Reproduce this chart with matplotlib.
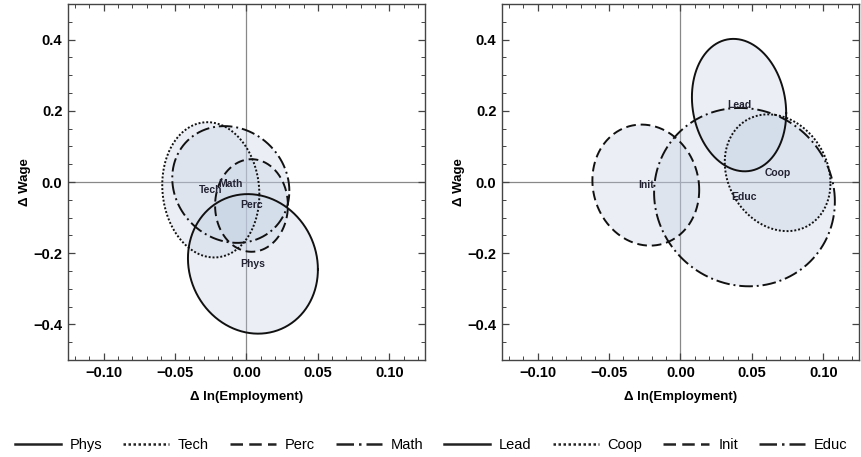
import numpy as np
import matplotlib.pyplot as plt
from matplotlib.lines import Line2D
from matplotlib.ticker import MultipleLocator, FuncFormatter

plt.rcParams['font.family'] = ['Liberation Sans', 'DejaVu Sans']

# left panel: centre, half-extent in x / y, correlation
left_names = ['Phys', 'Tech', 'Perc', 'Math']
left_cx = [0.0045, -0.025, 0.0035, -0.011]
left_cy = [-0.230, -0.022, -0.066, -0.007]
left_sx = [0.0455, 0.034, 0.0255, 0.041]
left_sy = [0.196, 0.190, 0.130, 0.164]
left_rho = [-0.08, -0.07, 0.0, -0.11]

# right panel
right_names = ['Lead', 'Coop', 'Init', 'Educ']
right_cx = [0.041, 0.068, -0.0243, 0.0448]
right_cy = [0.216, 0.026, -0.0087, -0.0425]
right_sx = [0.033, 0.037, 0.0374, 0.0633]
right_sy = [0.186, 0.164, 0.170, 0.2505]
right_rho = [-0.12, -0.18, -0.08, -0.05]

styles = ['-', (0, (1, 1)), (0, (5, 2.5)), (0, (7, 2, 1, 2))]
fill_col = (192/255, 205/255, 225/255)
t = np.linspace(0, 2*np.pi, 400)


def fmt(dec):
    return FuncFormatter(lambda v, p: f'{v:.{dec}f}'.replace('-', '\u2212'))


def draw_panel(ax, names, cx, cy, sx, sy, rho):
    for i, n in enumerate(names):
        x = cx[i] + sx[i]*np.cos(t)
        y = cy[i] + sy[i]*(rho[i]*np.cos(t) + np.sqrt(1 - rho[i]**2)*np.sin(t))
        ax.fill(x, y, color=fill_col, alpha=0.3, lw=0, zorder=2)
        ax.plot(x, y, color='#111111', lw=1.4, ls=styles[i], zorder=3)
    for i, n in enumerate(names):
        ax.text(cx[i], cy[i], n, ha='center', va='center', fontsize=7.5,
                fontweight='bold', color='#222233', zorder=4)
    ax.axhline(0, color='#888888', lw=0.9, zorder=1)
    ax.axvline(0, color='#888888', lw=0.9, zorder=1)
    ax.set_xlim(-0.125, 0.125)
    ax.set_ylim(-0.5, 0.5)
    ax.xaxis.set_major_locator(MultipleLocator(0.05))
    ax.xaxis.set_minor_locator(MultipleLocator(0.01))
    ax.yaxis.set_major_locator(MultipleLocator(0.2))
    ax.yaxis.set_minor_locator(MultipleLocator(0.05))
    ax.xaxis.set_major_formatter(fmt(2))
    ax.yaxis.set_major_formatter(fmt(1))
    ax.tick_params(which='both', direction='in', top=True, right=True,
                   color='#444444', labelsize=10.5, pad=4)
    ax.tick_params(which='major', length=5, width=0.9)
    ax.tick_params(which='minor', length=3, width=0.7)
    for lab in ax.get_xticklabels() + ax.get_yticklabels():
        lab.set_fontweight('bold')
    for sp in ax.spines.values():
        sp.set_color('#444444')
        sp.set_linewidth(1.0)
    ax.set_xlabel('Δ ln(Employment)', fontsize=9.5, fontweight='bold', labelpad=8)
    ax.set_ylabel('Δ Wage', fontsize=9.5, fontweight='bold', labelpad=2)


fig = plt.figure(figsize=(8.62, 4.57), dpi=100)
ax1 = fig.add_axes([68/862, 97/457, 357/862, 356/457])
ax2 = fig.add_axes([502/862, 97/457, 357/862, 356/457])
draw_panel(ax1, left_names, left_cx, left_cy, left_sx, left_sy, left_rho)
draw_panel(ax2, right_names, right_cx, right_cy, right_sx, right_sy, right_rho)

handles = [Line2D([], [], color='#222222', lw=1.8, ls=styles[i % 4])
           for i in range(8)]
fig.legend(handles, left_names + right_names, ncol=8, loc='lower center',
           bbox_to_anchor=(0.5, -0.018), frameon=False, fontsize=10.5,
           handlelength=3.15, handletextpad=0.6, columnspacing=1.45)

fig.savefig('out.png', dpi=100)
